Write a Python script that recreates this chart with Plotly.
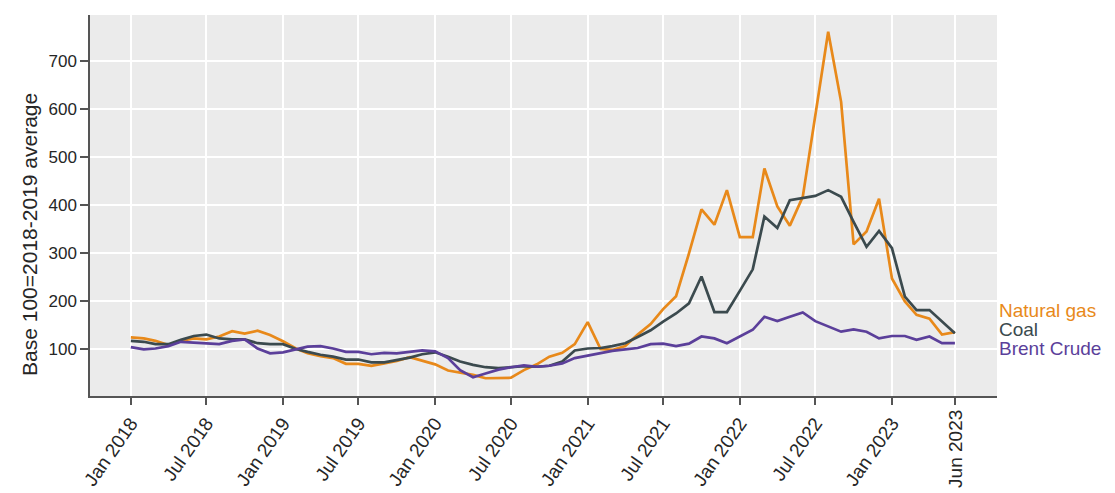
import plotly.graph_objects as go
import pandas as pd

months = pd.date_range("2018-01-01", "2023-06-01", freq="MS").strftime("%Y-%m-%d").tolist()

natural_gas = [
    124, 122, 117, 108, 117, 122, 120, 126, 137, 132, 138, 129,
    116, 101, 91, 85, 81, 69, 69, 65, 70, 75, 83, 76,
    68, 55, 51, 46, 39, 39, 40, 56, 68, 84, 92, 110,
    156, 100, 98, 106, 130, 152, 183, 210, 299, 391, 359, 431,
    333, 333, 476, 397, 357, 417, 590, 761, 615, 318, 345, 413,
    247, 199, 171, 163, 130, 135,
]
coal = [
    117, 115, 110, 110, 119, 127, 130, 122, 120, 120, 112, 110,
    110, 100, 94, 88, 84, 78, 78, 72, 72, 77, 82, 89,
    93, 84, 74, 67, 62, 60, 62, 64, 63, 65, 74, 97,
    101, 102, 106, 112, 125, 139, 157, 174, 195, 251, 177, 177,
    221, 266, 376, 352, 410, 415, 419, 431, 417, 365, 313, 346,
    310, 209, 181, 181, 158, 133,
]
brent = [
    104, 99, 101, 106, 115, 113, 112, 110, 117, 120, 101, 91,
    93, 99, 105, 106, 101, 94, 94, 89, 92, 91, 94, 97,
    95, 81, 56, 41, 49, 57, 62, 66, 63, 65, 70, 81,
    86, 92, 96, 99, 102, 110, 111, 106, 111, 126, 122, 112,
    126, 140, 167, 158, 167, 176, 158, 147, 136, 141, 136, 122,
    127, 127, 119, 126, 112, 112,
]

series_names = ["Natural gas", "Coal", "Brent Crude"]
series_colors = ["#E8891A", "#3B4A4E", "#5B3F9A"]

tick_vals = ["2018-01-01", "2018-07-01", "2019-01-01", "2019-07-01", "2020-01-01",
             "2020-07-01", "2021-01-01", "2021-07-01", "2022-01-01", "2022-07-01",
             "2023-01-01", "2023-06-01"]
tick_text = ["Jan 2018", "Jul 2018", "Jan 2019", "Jul 2019", "Jan 2020", "Jul 2020",
             "Jan 2021", "Jul 2021", "Jan 2022", "Jul 2022", "Jan 2023", "Jun 2023"]
y_ticks = [100, 200, 300, 400, 500, 600, 700]
y_title = "Base 100=2018-2019 average"

label_y = [181, 141, 100]

FONT = "Liberation Sans, Arial, sans-serif"

fig = go.Figure()
for name, vals, col in zip(series_names, [natural_gas, coal, brent], series_colors):
    fig.add_trace(go.Scatter(x=months, y=vals, mode="lines", name=name,
                             line=dict(color=col, width=2.7), showlegend=False))

for name, col, ly in zip(series_names, series_colors, label_y):
    fig.add_annotation(x=1.0, xref="paper", y=ly, yref="y", text=name,
                       showarrow=False, xanchor="left", yanchor="middle",
                       font=dict(size=19, color=col, family=FONT))

fig.add_annotation(x=-0.066, xref="paper", y=0.423, yref="paper", text=y_title,
                   textangle=-90, showarrow=False, xanchor="center", yanchor="middle",
                   font=dict(size=21, color="#262626", family=FONT))

# the last tick label is drawn upright (vertical) in the reference
shown_text = tick_text[:-1] + [""]
fig.add_annotation(x=tick_vals[-1], xref="x", y=0, yref="paper", yshift=-12,
                   text=tick_text[-1], textangle=-90, showarrow=False,
                   xanchor="center", yanchor="top",
                   font=dict(size=19, color="#262626", family=FONT))

# page body has an 8px margin, so the figure is sized to fit inside the window
fig.update_layout(
    width=1107, height=485,
    margin=dict(l=82, r=118, t=7, b=97),
    paper_bgcolor="white",
    plot_bgcolor="#EBEBEB",
    font=dict(family=FONT, size=16, color="#262626"),
)
fig.update_xaxes(
    type="date", automargin=False,
    range=["2017-09-25", "2023-09-10"],
    tickvals=tick_vals, ticktext=shown_text, tickangle=-55,
    tickfont=dict(size=19),
    showgrid=True, gridcolor="white", gridwidth=2,
    showline=True, linecolor="#555555", linewidth=1.5,
    ticks="outside", ticklen=7, tickcolor="#555555", tickwidth=1.5,
    zeroline=False,
)
fig.update_yaxes(
    automargin=False,
    range=[2, 796],
    tickvals=y_ticks,
    tickfont=dict(size=17),
    showgrid=True, gridcolor="white", gridwidth=2,
    showline=True, linecolor="#555555", linewidth=1.5,
    ticks="outside", ticklen=8, tickcolor="#555555", tickwidth=1.5,
    zeroline=False,
)

fig.write_html("out.html")
